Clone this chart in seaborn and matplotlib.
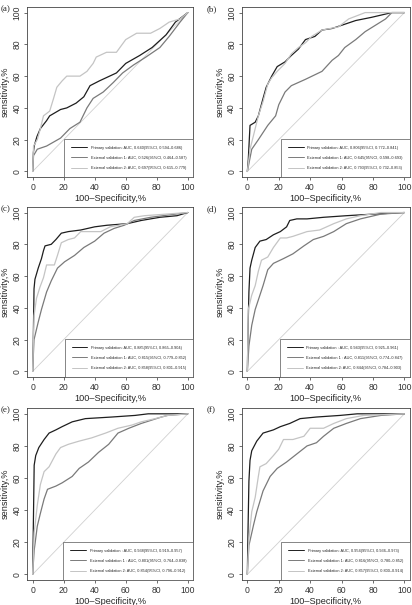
import pandas as pd
import matplotlib
matplotlib.use("Agg")
import matplotlib.pyplot as plt
import seaborn as sns

# ----------------------------
# curvas ROC (100-especificidade %, sensibilidade %)
# ----------------------------
a_primary = [(0, 0), (0.5, 12), (1, 16), (2.8, 22), (5, 27), (9, 32), (11, 35), (18, 39), (22, 40),
             (28, 43), (33, 47), (37, 54), (43, 57), (54, 62), (60, 68), (69, 73), (77, 78), (86, 86),
             (92, 94), (100, 100)]
a_ext1 = [(0, 0), (0.6, 10), (3, 14), (9, 16), (18, 21), (24, 27), (30.5, 31), (35, 40), (39, 46),
          (45.5, 50), (52, 56), (58, 62), (65, 67), (73, 72), (82, 78), (88, 85), (95, 94), (100, 100)]
a_ext2 = [(0, 0), (0.6, 16), (3, 20), (5, 27), (7, 35), (11, 38), (13.5, 46), (15.6, 53), (19, 57),
          (22, 60), (30.5, 60), (35, 63), (39, 68), (41, 72), (47.6, 75), (54, 75), (60, 83), (67, 87),
          (76, 87), (82, 90), (88, 94), (95, 96), (100, 100)]

b_primary = [(0, 0), (0.6, 7.5), (1.7, 29), (5, 31), (7, 35), (10, 46), (12, 53), (15.5, 60), (19, 66),
             (24, 69), (28, 73), (32.5, 77), (37, 83), (43, 85), (47.5, 89), (54, 90), (60, 92),
             (69, 95), (79, 97), (92, 100), (100, 100)]
b_ext1 = [(0, 0), (2.8, 14), (7, 20), (13, 29), (18, 35), (20, 42), (24, 50), (28, 54), (37, 58),
          (47.5, 63), (54, 70), (58, 73), (62, 78), (69, 83), (75, 88), (81.5, 92), (88, 96),
          (92, 100), (100, 100)]
b_ext2 = [(0, 0), (1.7, 14), (4, 23), (5, 27), (7, 35), (10, 44), (13, 55), (15.5, 59), (19, 63),
          (24, 68), (28, 74), (32.5, 78), (37, 81), (41, 85), (47.5, 89), (58, 91), (64.5, 96),
          (75, 100), (100, 100)]

c_primary = [(0, 0), (0.4, 18), (0.9, 52), (1.5, 58), (3.6, 65), (5.7, 71), (7, 76), (8, 79), (12, 80),
             (15, 83), (18.5, 87), (23, 88), (31, 89), (40, 91), (48, 92), (61, 93), (70, 95),
             (82, 97), (93, 98), (100, 100)]
c_ext1 = [(0, 0), (0.9, 20), (3.6, 31), (5.7, 39), (9, 50), (12, 57), (16, 65), (20.6, 69), (27, 73),
          (33, 78), (40, 82), (46, 87), (52.5, 90), (59, 92), (65.5, 95), (76, 97), (100, 100)]
c_ext2 = [(0, 0), (0.9, 35), (2.5, 46), (4.7, 53), (7, 59), (9, 67), (14, 67), (16, 73), (18.5, 81),
          (23, 83), (27, 84), (31, 88), (44, 88), (50, 91), (61, 93), (65.5, 97), (72, 98), (100, 100)]

d_primary = [(0, 0), (0.4, 24), (1, 50), (1.7, 65), (2.8, 70), (5, 78), (8, 82), (12, 83), (16.6, 86),
             (21, 88), (25, 91), (27, 95), (31.5, 96), (38, 96), (48.5, 97), (63, 98), (80, 99),
             (100, 100)]
d_ext1 = [(0, 0), (1, 16), (2.8, 29), (5, 39), (8, 48), (10, 54), (13, 64), (16.6, 68), (23, 71),
          (29, 74), (36, 79), (42, 83), (48.5, 85), (55, 88), (63, 93), (72, 96), (85, 99), (100, 100)]
d_ext2 = [(0, 0), (0.6, 39), (2.8, 48), (5, 54), (7, 63), (9, 70), (13, 72), (16.6, 78), (21, 84),
          (25, 84), (29, 85), (38, 88), (46, 89), (55, 93), (63, 96), (72, 98), (85, 100), (100, 100)]

e_primary = [(0, 0), (0.4, 26), (1, 68), (2, 74), (4, 79), (7.4, 84), (10.6, 88), (15, 90), (19, 92),
             (25.5, 95), (34, 97), (51, 98), (66, 99), (74.5, 100), (100, 100)]
e_ext1 = [(0, 0), (1, 15), (3, 30), (5, 38), (7.4, 47), (9.6, 53), (15, 55), (19, 57), (25.5, 61),
          (30, 66), (36, 70), (42.5, 76), (49, 81), (55, 88), (62, 91), (70, 94), (83, 98), (87, 99),
          (100, 100)]
e_ext2 = [(0, 0), (1, 26), (3, 43), (5, 56), (7.4, 64), (10.6, 67), (15, 75), (18, 79), (23, 81),
          (30, 83), (38, 85), (47, 88), (55, 91), (64, 93), (70, 95), (79, 97), (87, 99), (100, 100)]

f_primary = [(0, 0), (0.4, 26), (1, 58), (1.7, 71), (2.8, 77), (6, 83), (10, 88), (16.6, 90), (21, 92),
             (27, 94), (33.6, 97), (44, 98), (59, 99), (70, 100), (100, 100)]
f_ext1 = [(0, 0), (1, 18), (4, 31), (6, 39), (10, 52), (14.5, 61), (19, 66), (25, 70), (31.5, 75),
          (38, 80), (44, 82), (48.5, 86), (55, 91), (63, 94), (72, 97), (85, 99), (100, 100)]
f_ext2 = [(0, 0), (1, 22), (2.8, 39), (5, 48), (7, 61), (8, 67), (12, 69), (16.6, 74), (20, 78),
          (23, 84), (29, 84), (36, 86), (40, 91), (48.5, 91), (55, 94), (63, 97), (74, 99), (100, 100)]

# textos das legendas
a_labels = ["Primary validation: AUC, 0.640(95%CI, 0.594\u20130.686)",
            "External validation 1: AUC, 0.526(95%CI, 0.464\u20130.587)",
            "External validation 2: AUC, 0.697(95%CI, 0.615\u20130.779)"]
b_labels = ["Primary validation: AUC, 0.806(95%CI, 0.772\u20130.841)",
            "External validation 1: AUC, 0.645(95%CI, 0.598\u20130.693)",
            "External validation 2: AUC, 0.793(95%CI, 0.732\u20130.853)"]
c_labels = ["Primary validation: AUC, 0.885(95%CI, 0.865\u20130.904)",
            "External validation 1: AUC, 0.815(95%CI, 0.779\u20130.852)",
            "External validation 2: AUC, 0.858(95%CI, 0.801\u20130.915)"]
d_labels = ["Primary validation : AUC, 0.943(95%CI, 0.925\u20130.961)",
            "External validation 1 : AUC, 0.811(95%CI, 0.774\u20130.847)",
            "External validation 2: AUC, 0.844(95%CI, 0.784\u20130.903)"]
e_labels = ["Primary validation : AUC, 0.938(95%CI, 0.919\u20130.957)",
            "External validation 1 : AUC, 0.801(95%CI, 0.764\u20130.838)",
            "External validation 2: AUC, 0.854(95%CI, 0.796\u20130.912)"]
f_labels = ["Primary validation: AUC, 0.954(95%CI, 0.936\u20130.973)",
            "External validation 1: AUC, 0.816(95%CI, 0.780\u20130.852)",
            "External validation 2: AUC, 0.857(95%CI, 0.800\u20130.914)"]

paineis = [("(a)", [a_primary, a_ext1, a_ext2], a_labels),
           ("(b)", [b_primary, b_ext1, b_ext2], b_labels),
           ("(c)", [c_primary, c_ext1, c_ext2], c_labels),
           ("(d)", [d_primary, d_ext1, d_ext2], d_labels),
           ("(e)", [e_primary, e_ext1, e_ext2], e_labels),
           ("(f)", [f_primary, f_ext1, f_ext2], f_labels)]

cores = ["#1e1e1e", "#7a7a7a", "#c4c4c4"]

sns.set_style("white")
plt.rcParams["font.family"] = ["Liberation Sans", "DejaVu Sans"]

fig = plt.figure(figsize=(4.12, 6.05), dpi=100)

# posicoes dos eixos (em fracao da figura)
lefts = [0.066, 0.587]
widths = [0.403, 0.408]
bottoms = [0.7074, 0.3769, 0.0413]
heights = [0.281, 0.281, 0.284]

for i, (letra, curvas, labels) in enumerate(paineis):
    lin, col = divmod(i, 2)
    ax = fig.add_axes([lefts[col], bottoms[lin], widths[col], heights[lin]])

    linhas = []
    for lab, pts in zip(labels, curvas):
        for k, (x, y) in enumerate(pts):
            linhas.append({"fpr": x, "sens": y, "curva": lab, "ordem": k})
    df = pd.DataFrame(linhas)

    # diagonal de referencia
    ax.plot([0, 100], [0, 100], color="#d0d0d0", lw=0.6, zorder=1)

    sns.lineplot(data=df, x="fpr", y="sens", hue="curva", hue_order=labels,
                 palette=cores, estimator=None, sort=False,
                 lw=0.9, ax=ax, legend=True, zorder=3)

    handles, labs = ax.get_legend_handles_labels()
    leg = ax.legend(handles, labs, loc="lower right", fontsize=2.8,
                    frameon=True, fancybox=False, edgecolor="#555555",
                    framealpha=1, borderaxespad=0, borderpad=1.8,
                    labelspacing=1.6, handlelength=4.0, handletextpad=1.0)
    leg.get_frame().set_linewidth(0.5)
    for h in leg.get_lines():
        h.set_linewidth(0.7)

    ax.set_xlim(-3.5, 103.5)
    ax.set_ylim(-3.5, 103.5)
    ax.set_xticks([0, 20, 40, 60, 80, 100])
    ax.set_yticks([0, 20, 40, 60, 80, 100])
    ax.tick_params(axis="both", labelsize=6.2, length=2.5, width=0.5,
                   direction="out", pad=1.5, bottom=True, left=True, colors="#333333")
    plt.setp(ax.get_yticklabels(), rotation=90, va="center")
    for s in ax.spines.values():
        s.set_linewidth(0.6)
        s.set_color("#444444")
    ax.set_xlabel("100\u2013Specificity,%", fontsize=6.6, labelpad=2)
    ax.set_ylabel("sensitivity,%", fontsize=6.6, labelpad=2)

    # rotulo do painel
    fig.text(lefts[col] - 0.064 if col == 0 else lefts[col] - 0.085,
             bottoms[lin] + heights[lin] - 0.004, letra,
             family="Liberation Serif", fontsize=6.5, ha="left", va="center")

fig.savefig("out.png", dpi=100)
